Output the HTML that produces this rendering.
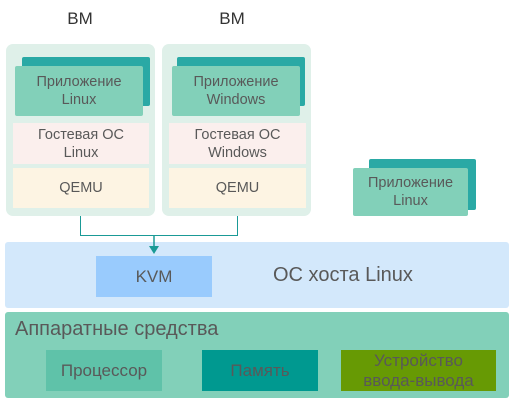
<!DOCTYPE html>
<html><head><meta charset="utf-8"><style>
body{margin:0;width:513px;height:405px;background:#fff;position:relative;overflow:hidden;font-family:"Liberation Sans","DejaVu Sans",sans-serif;color:#595959}
.a{position:absolute;box-sizing:border-box}
.c{display:flex;align-items:center;justify-content:center;text-align:center;font-size:14.5px;line-height:18px;white-space:nowrap}
</style></head><body>
<div class="a c" style="left:50px;top:9px;width:60px;height:20px;font-size:17px;color:#333">BM</div>
<div class="a c" style="left:202px;top:9px;width:60px;height:20px;font-size:17px;color:#333">BM</div>

<div class="a" style="left:6px;top:44px;width:149px;height:172px;background:#dff0e9;border-radius:7px"></div>
<div class="a" style="left:22px;top:57px;width:128px;height:49px;background:#2aa9a5;border-radius:2px"></div>
<div class="a c" style="left:15px;top:66px;width:128px;height:50px;background:#82d0b9;border-radius:2px">Приложение<br>Linux</div>
<div class="a c" style="left:13px;top:123px;width:136px;height:41px;background:#fbefed">Гостевая ОС<br>Linux</div>
<div class="a c" style="left:13px;top:168px;width:136px;height:40px;background:#fdf4e3">QEMU</div>

<div class="a" style="left:162px;top:44px;width:149px;height:172px;background:#dff0e9;border-radius:7px"></div>
<div class="a" style="left:177px;top:57px;width:128px;height:49px;background:#2aa9a5;border-radius:2px"></div>
<div class="a c" style="left:172px;top:66px;width:128px;height:50px;background:#82d0b9;border-radius:2px">Приложение<br>Windows</div>
<div class="a c" style="left:169px;top:123px;width:137px;height:41px;background:#fbefed">Гостевая ОС<br>Windows</div>
<div class="a c" style="left:169px;top:168px;width:137px;height:40px;background:#fdf4e3">QEMU</div>

<div class="a" style="left:369px;top:159px;width:107px;height:51px;background:#2aa9a5;border-radius:2px"></div>
<div class="a c" style="left:353px;top:168px;width:115px;height:48px;background:#82d0b9;border-radius:2px">Приложение<br>Linux</div>

<div class="a" style="left:5px;top:242px;width:504px;height:66px;background:#d3e8fb;border-radius:3px"></div>
<div class="a c" style="left:96px;top:256px;width:116px;height:41px;background:#99cbfd;font-size:17px">KVM</div>
<div class="a" style="left:273px;top:263px;font-size:20px;line-height:24px;white-space:nowrap">ОС хоста Linux</div>

<svg class="a" style="left:0;top:0" width="513" height="405">
<polyline points="80.5,216 80.5,235.5 237.5,235.5 237.5,216" fill="none" stroke="#1a9a96" stroke-width="1"/>
<line x1="154" y1="235" x2="154" y2="247" stroke="#1a9a96" stroke-width="1.5"/>
<polygon points="149,246 159,246 154,254" fill="#1a9a96"/>
</svg>

<div class="a" style="left:5px;top:312px;width:504px;height:86px;background:#82d0b9;border-radius:3px"></div>
<div class="a" style="left:15px;top:317px;font-size:20px;line-height:24px;white-space:nowrap">Аппаратные средства</div>
<div class="a c" style="left:46px;top:350px;width:116px;height:41px;background:#5fc2a9;font-size:17px">Процессор</div>
<div class="a c" style="left:202px;top:350px;width:116px;height:41px;background:#009990;font-size:17px">Память</div>
<div class="a c" style="left:341px;top:350px;width:155px;height:41px;background:#679a04;font-size:17px;line-height:20px">Устройство<br>ввода-вывода</div>
</body></html>
